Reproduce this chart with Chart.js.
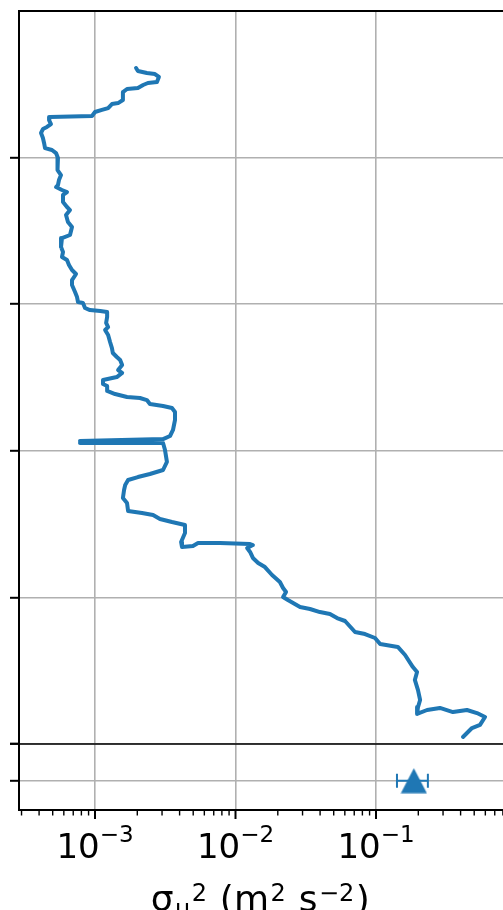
<!DOCTYPE html>
<html>
<head>
<meta charset="utf-8">
<script src="https://cdn.jsdelivr.net/npm/chart.js@4.4.1/dist/chart.umd.min.js"></script>
<style>
html, body { margin: 0; padding: 0; background: #fff; overflow: hidden; }
#wrap { position: relative; width: 503px; height: 910px; }
canvas { position: absolute; left: 0; }
#profile { top: 0; }
#surface { top: 700px; }
</style>
</head>
<body>
<div id="wrap">
  <canvas id="profile" width="503" height="746"></canvas>
  <canvas id="surface" width="503" height="210"></canvas>
</div>
<script>
// profil vertical de sigma_u^2 (en haut) et valeur de surface avec barre d'erreur (en bas)
var heights = [
  4.611, 4.591, 4.577, 4.570, 4.550, 4.516, 4.509, 4.495, 4.475, 4.468,
  4.447, 4.393, 4.372, 4.365, 4.338, 4.325, 4.311, 4.284, 4.277, 4.256,
  4.229, 4.209, 4.195, 4.168, 4.134, 4.100, 4.065, 4.052, 4.031, 3.997,
  3.963, 3.915, 3.881, 3.847, 3.813, 3.799, 3.779, 3.765, 3.745, 3.697,
  3.663, 3.642, 3.608, 3.561, 3.527, 3.472, 3.451, 3.390, 3.356, 3.322,
  3.301, 3.267, 3.233, 3.206, 3.165, 3.131, 3.083, 3.049, 3.015, 3.008,
  2.974, 2.960, 2.953, 2.947, 2.913, 2.872, 2.844, 2.824, 2.790, 2.742,
  2.701, 2.667, 2.640, 2.619, 2.585, 2.551, 2.531, 2.503, 2.483, 2.456,
  2.442, 2.408, 2.387, 2.367, 2.360, 2.346, 2.319, 2.306, 2.292, 2.265,
  2.210, 2.142, 2.101, 2.080, 2.067, 2.074, 2.053, 2.053, 2.005, 1.924,
  1.869, 1.842, 1.821, 1.801, 1.767, 1.733, 1.678, 1.644, 1.589, 1.576,
  1.562, 1.535, 1.514, 1.494, 1.439, 1.378, 1.344, 1.351, 1.371, 1.371,
  1.364, 1.357, 1.337, 1.310, 1.269, 1.235, 1.207, 1.153, 1.105, 1.064,
  1.037, 1.003, 0.982, 0.934, 0.921, 0.900, 0.887, 0.859, 0.839, 0.764,
  0.750, 0.723, 0.682, 0.662, 0.607, 0.525, 0.491, 0.437, 0.368, 0.300,
  0.252, 0.205, 0.232, 0.246, 0.218, 0.232, 0.211, 0.184, 0.130, 0.109,
  0.048
];
var sigmaU2 = [
  1.96e-3, 2.02e-3, 2.34e-3, 2.67e-3, 2.85e-3, 2.76e-3, 2.38e-3, 2.20e-3, 2.02e-3, 1.69e-3,
  1.58e-3, 1.58e-3, 1.46e-3, 1.32e-3, 1.24e-3, 1.12e-3, 1.00e-3, 9.52e-4, 4.78e-4, 4.71e-4,
  4.86e-4, 4.55e-4, 4.26e-4, 4.13e-4, 4.26e-4, 4.34e-4, 4.41e-4, 4.94e-4, 5.28e-4, 5.45e-4,
  5.37e-4, 5.45e-4, 5.73e-4, 5.54e-4, 5.45e-4, 5.28e-4, 5.82e-4, 6.32e-4, 5.92e-4, 5.92e-4,
  6.32e-4, 6.64e-4, 6.22e-4, 6.42e-4, 6.86e-4, 6.64e-4, 5.82e-4, 5.73e-4, 5.92e-4, 5.82e-4,
  6.32e-4, 6.53e-4, 6.86e-4, 7.33e-4, 6.86e-4, 6.86e-4, 7.21e-4, 7.45e-4, 7.57e-4, 8.21e-4,
  8.49e-4, 9.21e-4, 1.09e-3, 1.22e-3, 1.22e-3, 1.20e-3, 1.24e-3, 1.18e-3, 1.24e-3, 1.28e-3,
  1.32e-3, 1.34e-3, 1.43e-3, 1.51e-3, 1.56e-3, 1.46e-3, 1.56e-3, 1.43e-3, 1.14e-3, 1.14e-3,
  1.22e-3, 1.22e-3, 1.39e-3, 1.69e-3, 2.09e-3, 2.34e-3, 2.46e-3, 3.05e-3, 3.53e-3, 3.71e-3,
  3.71e-3, 3.59e-3, 3.42e-3, 3.05e-3, 7.82e-4, 2.90e-3, 7.82e-4, 3.05e-3, 3.15e-3, 3.25e-3,
  3.05e-3, 2.46e-3, 2.02e-3, 1.72e-3, 1.64e-3, 1.61e-3, 1.58e-3, 1.69e-3, 1.72e-3, 2.16e-3,
  2.59e-3, 2.90e-3, 3.53e-3, 4.37e-3, 4.37e-3, 4.10e-3, 4.16e-3, 4.98e-3, 5.41e-3, 7.76e-3,
  1.27e-2, 1.33e-2, 1.21e-2, 1.27e-2, 1.33e-2, 1.45e-2, 1.62e-2, 1.82e-2, 2.07e-2, 2.18e-2,
  2.29e-2, 2.18e-2, 2.36e-2, 2.88e-2, 3.39e-2, 3.99e-2, 4.70e-2, 5.28e-2, 6.02e-2, 7.09e-2,
  8.35e-2, 9.84e-2, 0.107, 0.143, 0.161, 0.183, 0.196, 0.189, 0.199, 0.206,
  0.199, 0.196, 0.231, 0.285, 0.353, 0.444, 0.523, 0.597, 0.550, 0.482,
  0.416
];

var surfaceValue = [0.186];
var surfaceLow = [0.141];
var surfaceHigh = [0.234];
var surfaceLevel = [0];

var xMajorTicks = [1e-3, 1e-2, 1e-1];
var xTickBase = ['10', '10', '10'];
var xTickExp = ['\u22123', '\u22122', '\u22121'];
var xMinorTicks = [
  3e-4, 4e-4, 5e-4, 6e-4, 7e-4, 8e-4, 9e-4,
  2e-3, 3e-3, 4e-3, 5e-3, 6e-3, 7e-3, 8e-3, 9e-3,
  2e-2, 3e-2, 4e-2, 5e-2, 6e-2, 7e-2, 8e-2, 9e-2,
  0.2, 0.3, 0.4, 0.5, 0.6, 0.7, 0.8
];
var yTicksProfile = [0, 1, 2, 3, 4, 5];
var yTicksSurface = [0, 1];

var blue = '#1f77b4';
var grey = '#b0b0b0';
var clear = 'rgba(0,0,0,0)';
var xMin = 2.878e-4, xMax = 0.8014;
var font = '"DejaVu Sans", sans-serif';

function setTicks(values) {
  return function (scale) {
    scale.ticks = values.map(function (v) { return { value: v, major: xMajorTicks.indexOf(v) >= 0 }; });
  };
}

var profilePoints = heights.map(function (h, i) { return { x: sigmaU2[i], y: h }; });

// ligne du haut (cadre)
var topLine = {
  id: 'topLine',
  afterDraw: function (chart, args, opts) {
    var ctx = chart.ctx, a = chart.chartArea;
    ctx.save();
    ctx.strokeStyle = '#000';
    ctx.lineWidth = opts.width;
    ctx.beginPath();
    ctx.moveTo(a.left - 1, a.top);
    ctx.lineTo(a.right, a.top);
    ctx.stroke();
    ctx.restore();
  }
};

new Chart(document.getElementById('profile'), {
  type: 'scatter',
  data: {
    datasets: [{
      data: profilePoints,
      showLine: true,
      borderColor: blue,
      borderWidth: 4,
      borderJoinStyle: 'round',
      borderCapStyle: 'round',
      pointRadius: 0,
      tension: 0
    }]
  },
  options: {
    responsive: false,
    animation: false,
    devicePixelRatio: 1,
    events: [],
    layout: { autoPadding: false, padding: { top: 11, bottom: 2, left: 0, right: 0 } },
    plugins: { legend: { display: false }, tooltip: { enabled: false }, topLine: { width: 2 } },
    scales: {
      x: {
        type: 'logarithmic',
        min: xMin, max: xMax,
        afterBuildTicks: setTicks(xMajorTicks),
        afterFit: function (s) { s.height = 0; },
        ticks: { display: false },
        border: { display: false },
        grid: { color: grey, lineWidth: 1.6, drawTicks: false }
      },
      y: {
        min: 0, max: 5,
        afterBuildTicks: setTicks(yTicksProfile),
        afterFit: function (s) { s.width = 19; },
        ticks: { display: false },
        border: { display: true, color: '#000', width: 2 },
        grid: {
          color: function (c) { return c.tick && c.tick.value === 5 ? clear : grey; },
          tickColor: function (c) { return c.tick && c.tick.value === 5 ? clear : '#000'; },
          lineWidth: 1.6, tickWidth: 2, tickLength: 9
        }
      }
    }
  },
  plugins: [topLine]
});

// triangle centre sur sa boite, comme le marqueur d'origine
var tri = document.createElement('canvas');
tri.width = 27; tri.height = 26;
(function () {
  var t = tri.getContext('2d');
  t.fillStyle = blue;
  t.beginPath();
  t.moveTo(13.5, 0.5); t.lineTo(26.5, 25.5); t.lineTo(0.5, 25.5);
  t.closePath();
  t.fill();
})();

var surfaceDecor = {
  id: 'surfaceDecor',
  beforeDatasetsDraw: function (chart) {
    var ctx = chart.ctx, xs = chart.scales.x, ys = chart.scales.y;
    ctx.save();
    ctx.strokeStyle = blue;
    ctx.lineWidth = 2;
    for (var i = 0; i < surfaceValue.length; i++) {
      var x1 = xs.getPixelForValue(surfaceLow[i]);
      var x2 = xs.getPixelForValue(surfaceHigh[i]);
      var y = ys.getPixelForValue(surfaceLevel[i]);
      ctx.beginPath();
      ctx.moveTo(x1, y); ctx.lineTo(x2, y);
      ctx.moveTo(x1, y - 7); ctx.lineTo(x1, y + 7);
      ctx.moveTo(x2, y - 7); ctx.lineTo(x2, y + 7);
      ctx.stroke();
    }
    ctx.restore();
  },
  afterDraw: function (chart) {
    var ctx = chart.ctx, a = chart.chartArea, xs = chart.scales.x;
    ctx.save();
    // ligne de separation entre les deux panneaux
    ctx.strokeStyle = '#000';
    ctx.lineWidth = 1.5;
    ctx.beginPath();
    ctx.moveTo(a.left, a.top); ctx.lineTo(a.right, a.top);
    ctx.stroke();
    // graduations de l'axe x
    xs.ticks.forEach(function (t) {
      var px = xs.getPixelForValue(t.value);
      ctx.lineWidth = t.major ? 2 : 1.4;
      ctx.beginPath();
      ctx.moveTo(px, a.bottom + 1);
      ctx.lineTo(px, a.bottom + (t.major ? 9 : 5.5));
      ctx.stroke();
    });
    // etiquettes 10^n
    ctx.fillStyle = '#000';
    ctx.textBaseline = 'alphabetic';
    ctx.textAlign = 'left';
    xMajorTicks.forEach(function (v, i) {
      var px = xs.getPixelForValue(v);
      ctx.font = '34px ' + font;
      var w1 = ctx.measureText(xTickBase[i]).width;
      ctx.font = '23px ' + font;
      var w2 = ctx.measureText(xTickExp[i]).width;
      var x0 = px - (w1 + w2) / 2;
      ctx.font = '34px ' + font;
      ctx.fillText(xTickBase[i], x0, a.bottom + 48);
      ctx.font = '23px ' + font;
      ctx.fillText(xTickExp[i], x0 + w1, a.bottom + 32);
    });
    // titre de l'axe
    var parts = [
      ['\u03c3', 36, 0], ['u', 24, 6], ['2', 24, -10], [' (m', 36, 0], ['2', 24, -10],
      [' s', 36, 0], ['\u22122', 24, -10], [')', 36, 0]
    ];
    var total = 0;
    parts.forEach(function (p) { ctx.font = p[1] + 'px ' + font; p.push(ctx.measureText(p[0]).width + 1.5); total += p[3]; });
    var x = (a.left + a.right) / 2 - total / 2;
    var base = a.bottom + 101;
    parts.forEach(function (p) {
      ctx.font = p[1] + 'px ' + font;
      ctx.fillText(p[0], x, base + p[2]);
      x += p[3];
    });
    ctx.restore();
  }
};

new Chart(document.getElementById('surface'), {
  type: 'scatter',
  data: {
    datasets: [{
      data: surfaceValue.map(function (v, i) { return { x: v, y: surfaceLevel[i] }; }),
      pointStyle: tri,
      pointRadius: 13,
      clip: false
    }]
  },
  options: {
    responsive: false,
    animation: false,
    devicePixelRatio: 1,
    events: [],
    layout: { autoPadding: false, padding: { top: 44, bottom: 0, left: 0, right: 0 } },
    plugins: { legend: { display: false }, tooltip: { enabled: false } },
    scales: {
      x: {
        type: 'logarithmic',
        min: xMin, max: xMax,
        afterBuildTicks: setTicks(xMajorTicks.concat(xMinorTicks)),
        afterFit: function (s) { s.height = 100; },
        ticks: { display: false },
        border: { display: true, color: '#000', width: 2 },
        grid: {
          color: function (c) { return c.tick && c.tick.major ? grey : clear; },
          lineWidth: 1.6, drawTicks: false
        }
      },
      y: {
        min: -0.8, max: 1,
        afterBuildTicks: setTicks(yTicksSurface),
        afterFit: function (s) { s.width = 19; },
        ticks: { display: false },
        border: { display: true, color: '#000', width: 2 },
        grid: {
          color: function (c) { return c.tick && c.tick.value === 1 ? clear : grey; },
          tickColor: '#000',
          lineWidth: 1.6, tickWidth: 2, tickLength: 9
        }
      }
    }
  },
  plugins: [surfaceDecor]
});
</script>
</body>
</html>
